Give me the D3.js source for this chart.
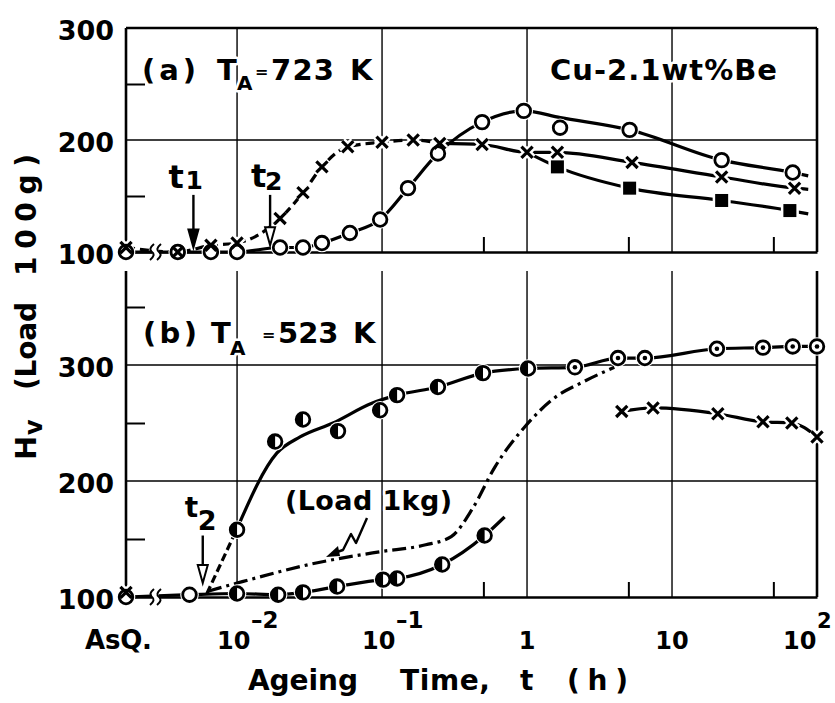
<!DOCTYPE html>
<html>
<head>
<meta charset="utf-8">
<script src="https://cdnjs.cloudflare.com/ajax/libs/d3/7.8.5/d3.min.js"></script>
<style>
  body { margin: 0; background: #fff; }
  svg { display: block; font-family: "DejaVu Sans", sans-serif; font-weight: bold; }
</style>
</head>
<body>
<div id="container"></div>
<script>
// DATA: ageing time t (h), "AsQ" = as quenched; Hv values

// (a) TA = 723 K
const aCircT = ["AsQ", 0.0039, 0.0066, 0.01, 0.0198, 0.0285, 0.0385, 0.060, 0.097, 0.151, 0.243, 0.49, 0.95, 1.69, 5.1, 22, 68];
const aCircV = [100, 100, 100, 100, 104, 104, 108, 117, 129, 157, 188, 216, 226, 211, 209, 182, 171];
const aCircLineT = ["AsQ", 0.0039, 0.0066, 0.01, 0.0198, 0.0285, 0.0385, 0.060, 0.097, 0.151, 0.243, 0.49, 0.95, 1.7, 5.1, 22, 68, 87];
const aCircLineV = [100, 100, 100, 100, 104, 104, 108, 117, 129, 157, 188, 216, 226, 220, 209, 182, 171, 168];

const aCrossT = ["AsQ", 0.0039, 0.0066, 0.01, 0.0198, 0.0285, 0.0385, 0.058, 0.10, 0.164, 0.25, 0.49, 1.0, 1.62, 5.3, 22, 70];
const aCrossV = [104, 100, 106, 108, 130, 153, 176, 194, 198, 200, 197, 196, 189, 189, 180, 167, 157];
const aCrossEndT = 87, aCrossEndV = 156;

const aSqT = [1.62, 5.1, 22, 65];
const aSqV = [176, 157, 146, 137];
const aSqLineT = [1.0, 1.62, 5.1, 22, 65, 87];
const aSqLineV = [189, 176, 157, 146, 137, 134];

// (b) TA = 523 K
const bOpenT = ["AsQ", 0.0047];
const bOpenV = [100, 102];
const bLowT = [0.01, 0.0192, 0.0285, 0.049, 0.1016, 0.127, 0.26, 0.51];
const bLowV = [103, 102, 104, 109, 115, 116, 128, 153];
const bLowLineT = ["AsQ", 0.0047, 0.01, 0.0192, 0.0285, 0.049, 0.1016, 0.127, 0.26, 0.51, 0.7];
const bLowLineV = [100, 102, 103, 102, 104, 109, 115, 116, 128, 153, 169];

const bUpT = [0.01, 0.0183, 0.0285, 0.0497, 0.097, 0.127, 0.243, 0.497, 1.016];
const bUpV = [158, 234, 253, 243, 261, 274, 281, 293, 297];
const bDotT = [2.14, 4.24, 6.5, 20.4, 42.4, 68, 100];
const bDotV = [298, 306, 306, 314, 315, 316, 316];
const bUpLineT = [0.0062, 0.01, 0.0188, 0.0272, 0.0459, 0.085, 0.127, 0.243, 0.497, 1.016, 2.14, 4.24, 6.5, 20.4, 42.4, 68, 100];
const bUpLineV = [103, 159, 224, 238, 250, 267, 274, 281, 293, 297, 298, 306, 306, 314, 315, 316, 316];

// Load 1 kg curve (no markers)
const b1kgT = [0.0063, 0.01, 0.0373, 0.0967, 0.2, 0.3, 0.42, 0.60, 0.97, 1.56, 2.40, 4.0];
const b1kgV = [105, 112, 130, 139, 145, 152, 176, 212, 247, 272, 285, 298];

const bCrossT = ["AsQ", 4.5, 7.4, 20.7, 42.4, 67, 100];
const bCrossV = [104, 260, 263, 258, 251, 250, 238];

// TICKS
const xTickVals = [0.01, 0.1, 1, 10, 100];
const xTickBase = ["10", "10", "1", "10", "10"];
const xTickExp = ["\u20132", "\u20131", "", "", "2"];
const xMinor = [0.5, 5, 50];
const yTickVals = [100, 200, 300];

// THE SVG
const W = 835, H = 703;
const left = 126, right = 817;
const asqT = Math.pow(10, -2.766);

const svg = d3.select("#container")
  .append("svg")
  .attr("width", W)
  .attr("height", H);

svg.append("rect").attr("width", W).attr("height", H).attr("fill", "#fff");

// THE SCALES
const xScale = d3.scaleLog().domain([asqT, 100]).range([left, right]);
const xPos = t => xScale(t === "AsQ" ? asqT : t);
const yA = d3.scaleLinear().domain([100, 300]).range([252, 28]);
const yB = d3.scaleLinear().domain([100, 300]).range([597, 365]);

const zip = (T, V) => T.map((t, i) => ({ t: t, v: V[i] }));

// THE GRID
const grid = svg.append("g").attr("stroke", "#000").attr("stroke-width", 1.4);
[[yA, 300, [0.01, 0.1, 1, 10], [200]], [yB, 381, [0.01, 0.1, 1, 10], [200, 300]]].forEach(p => {
  const y = p[0];
  grid.selectAll(null).data(p[2]).enter().append("line")
    .attr("x1", d => xScale(d)).attr("x2", d => xScale(d))
    .attr("y1", y(p[1])).attr("y2", y(100));
  grid.selectAll(null).data(p[3]).enter().append("line")
    .attr("x1", left).attr("x2", right)
    .attr("y1", d => y(d)).attr("y2", d => y(d));
});

// THE AXES
function frame(y, top, minorY, box) {
  const g = svg.append("g");
  // bottom axis with minor ticks at 5 x 10^n
  g.append("g")
    .attr("transform", `translate(0,${y(100)})`)
    .call(d3.axisTop(xScale).tickValues(xMinor).tickSize(15).tickSizeOuter(0).tickFormat(""))
    .call(s => s.selectAll("line").attr("stroke-width", 2))
    .call(s => s.select(".domain").attr("stroke-width", 2.6));
  // left axis
  g.append("line").attr("x1", left).attr("x2", left)
    .attr("y1", y(top)).attr("y2", y(100))
    .attr("stroke", "#000").attr("stroke-width", 2.6);
  g.append("g")
    .attr("transform", `translate(${left},0)`)
    .call(d3.axisRight(y).tickValues(minorY).tickSize(19).tickFormat(""))
    .call(s => s.select(".domain").remove())
    .call(s => s.selectAll("line").attr("stroke-width", 2));
  // labels
  g.append("g")
    .attr("transform", `translate(${left},0)`)
    .call(d3.axisLeft(y).tickValues(yTickVals).tickSize(0).tickPadding(12))
    .call(s => s.select(".domain").remove())
    .attr("font-family", null)
    .attr("font-size", 27)
    .call(s => s.selectAll("text").attr("dy", "0.42em"));
  // right side
  g.append("line").attr("x1", right).attr("x2", right)
    .attr("y1", y(top)).attr("y2", y(100))
    .attr("stroke", "#000").attr("stroke-width", 2.6);
  if (box) {
    g.append("line").attr("x1", left).attr("x2", right)
      .attr("y1", y(top)).attr("y2", y(top))
      .attr("stroke", "#000").attr("stroke-width", 2.6);
  }
}
frame(yA, 300, [150, 250], true);
frame(yB, 381, [150, 250, 350], false);

// X TICK LABELS
const xLab = svg.append("g").attr("font-size", 24);
xTickVals.forEach((v, i) => {
  const x = xScale(v);
  if (xTickExp[i]) {
    const x0 = x - (i === 4 ? 34 : 20);
    xLab.append("text").attr("x", x0).attr("y", 649).text(xTickBase[i]);
    xLab.append("text").attr("x", x0 + 34).attr("y", 628)
      .attr("font-size", i === 4 ? 21 : 23).text(xTickExp[i]);
  } else {
    xLab.append("text").attr("x", x).attr("y", 649).attr("text-anchor", "middle").text(xTickBase[i]);
  }
});
xLab.append("text").attr("x", xPos("AsQ") - 41).attr("y", 649).attr("font-size", 26)
  .attr("textLength", 67).attr("lengthAdjust", "spacing").text("AsQ.");

// THE LINES
function drawPath(pts, y, dash) {
  const line = d3.line().x(d => xPos(d.t)).y(d => y(d.v)).curve(d3.curveMonotoneX);
  svg.append("path")
    .attr("d", line(pts))
    .attr("fill", "none")
    .attr("stroke", "#000")
    .attr("stroke-width", 3.2)
    .attr("stroke-linejoin", "round")
    .attr("stroke-dasharray", dash || null);
}
const aCrossPts = zip(aCrossT, aCrossV);
drawPath(zip(aCircLineT, aCircLineV), yA);
drawPath(aCrossPts.slice(0, 11), yA, "9,5");
drawPath(aCrossPts.slice(10).concat([{ t: aCrossEndT, v: aCrossEndV }]), yA);
drawPath(zip(aSqLineT, aSqLineV), yA);

const bUpPts = zip(bUpLineT, bUpLineV);
drawPath(bUpPts.slice(0, 2), yB, "8,4");
drawPath(bUpPts.slice(1), yB);
drawPath(zip(bLowLineT, bLowLineV), yB);
drawPath(zip(b1kgT, b1kgV), yB, "14,5,3,5");
drawPath(zip(bCrossT, bCrossV).slice(1), yB);

// AXIS BREAKS
[yA, yB].forEach(y => {
  const x0 = xPos("AsQ") + 26, yy = y(100);
  svg.append("rect").attr("x", x0).attr("y", yy - 5).attr("width", 7).attr("height", 10).attr("fill", "#fff");
  [x0, x0 + 7].forEach(x => {
    svg.append("path")
      .attr("d", `M${x - 2},${yy + 8} Q${x + 4},${yy + 3} ${x},${yy} Q${x - 4},${yy - 3} ${x + 2},${yy - 8}`)
      .attr("fill", "none").attr("stroke", "#000").attr("stroke-width", 2);
  });
});

// THE MARKERS
const markerSets = [
  { pts: zip(aCircT, aCircV), y: yA, type: "circle" },
  { pts: zip(aSqT, aSqV), y: yA, type: "square" },
  { pts: aCrossPts, y: yA, type: "cross" },
  { pts: zip(bOpenT, bOpenV), y: yB, type: "circle" },
  { pts: zip(bLowT, bLowV), y: yB, type: "half" },
  { pts: zip(bUpT, bUpV), y: yB, type: "half" },
  { pts: zip(bDotT, bDotV), y: yB, type: "dot" },
  { pts: zip(bCrossT, bCrossV), y: yB, type: "cross" }
];
const R = 6.8;
const crossD = "M-5.6,-5.6L5.6,5.6M-5.6,5.6L5.6,-5.6";

// white halos first so lines break at the symbols
markerSets.forEach(s => {
  const g = svg.append("g");
  s.pts.forEach(d => {
    const m = g.append("g").attr("transform", `translate(${xPos(d.t)},${s.y(d.v)})`);
    if (s.type === "cross") m.append("path").attr("d", crossD).attr("stroke", "#fff").attr("stroke-width", 8);
    else if (s.type === "square") m.append("rect").attr("x", -9).attr("y", -9).attr("width", 18).attr("height", 18).attr("fill", "#fff");
    else m.append("circle").attr("r", R + 2.5).attr("fill", "#fff");
  });
});
markerSets.forEach(s => {
  const g = svg.append("g");
  s.pts.forEach(d => {
    const m = g.append("g").attr("transform", `translate(${xPos(d.t)},${s.y(d.v)})`);
    if (s.type === "cross") {
      m.append("path").attr("d", crossD).attr("stroke", "#000").attr("stroke-width", 3.2);
    } else if (s.type === "square") {
      m.append("rect").attr("x", -6.5).attr("y", -6.5).attr("width", 13).attr("height", 13).attr("fill", "#000");
    } else {
      m.append("circle").attr("r", R).attr("fill", "#fff").attr("stroke", "#000").attr("stroke-width", 2.8);
      if (s.type === "half") m.append("path").attr("d", `M0,${-R}A${R},${R} 0 0,0 0,${R}Z`).attr("fill", "#000");
      if (s.type === "dot") m.append("circle").attr("r", 2.3).attr("fill", "#000");
    }
  });
});

// ANNOTATIONS
function txt(str, x, y, size, o = {}) {
  const t = svg.append("text").attr("x", x).attr("y", y).attr("font-size", size).text(str);
  if (o.anchor) t.attr("text-anchor", o.anchor);
  if (o.len) t.attr("textLength", o.len).attr("lengthAdjust", o.squeeze ? "spacingAndGlyphs" : "spacing");
  if (o.halo) t.attr("stroke", "#fff").attr("stroke-width", 5).attr("paint-order", "stroke").attr("stroke-linejoin", "round");
  if (o.rot) t.attr("transform", `rotate(-90 ${x} ${y})`);
  return t;
}
function arrow(x, yTop, yTip, filled) {
  svg.append("line").attr("x1", x).attr("x2", x).attr("y1", yTop).attr("y2", yTip - 17)
    .attr("stroke", "#000").attr("stroke-width", 2.4);
  svg.append("path").attr("d", `M${x - 5},${yTip - 18}L${x + 5},${yTip - 18}L${x},${yTip}Z`)
    .attr("fill", filled ? "#000" : "#fff").attr("stroke", "#000").attr("stroke-width", 2);
}

// panel (a)
txt("(a)", 142, 80, 29, { halo: true, len: 54 });
txt("T", 217, 80, 29, { halo: true });
txt("A", 237, 90, 20, { halo: true });
txt("=", 255, 77, 16);
txt("723", 271, 80, 29, { len: 63 });
txt("K", 350, 80, 29);
txt("Cu-2.1wt%Be", 550, 80, 29, { halo: true, len: 227 });

const t1x = xScale(0.005), t2ax = xScale(0.0169);
arrow(t1x, yA(151), yA(104), true);
arrow(t2ax, yA(151), yA(106), false);
txt("t", t1x - 25, 188, 32);
txt("1", t1x - 8, 189, 25);
txt("t", t2ax - 19, 187, 32);
txt("2", t2ax - 5, 190, 25);

// panel (b)
txt("(b)", 143, 343, 29, { halo: true, len: 54 });
txt("T", 211, 343, 29, { halo: true });
txt("A", 230, 355, 20, { halo: true });
txt("=", 262, 340, 16);
txt("523", 278, 343, 29);
txt("K", 353, 343, 29);

const t2bx = xScale(0.0058);
arrow(t2bx, yB(153), yB(112), false);
txt("t", t2bx - 18, 517, 28);
txt("2", t2bx - 5, 530, 27);

txt("(Load 1kg)", 285, 510, 27, { halo: true, len: 167 });
svg.append("path")
  .attr("d", "M367,518 L356,543 L351,534 L343,550 L334,553")
  .attr("fill", "none").attr("stroke", "#000").attr("stroke-width", 2.4).attr("stroke-linejoin", "round");
svg.append("path").attr("d", "M326,557 L338,546 L340,556 Z").attr("fill", "#000");

// AXIS TITLES
txt("Ageing", 248, 690, 28, { len: 110 });
txt("Time,", 400, 690, 28, { len: 90 });
txt("t", 520, 690, 28);
txt("(h)", 567, 690, 28, { len: 61 });

txt("H", 36, 460, 29, { rot: true });
txt("v", 42, 435, 24, { rot: true });
txt("(Load", 36, 390, 28, { rot: true, len: 88 });
txt("100g)", 36, 276, 28, { rot: true, len: 122 });
</script>
</body>
</html>
